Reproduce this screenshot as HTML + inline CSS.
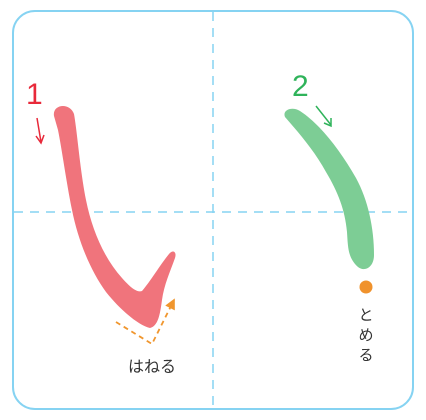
<!DOCTYPE html>
<html><head><meta charset="utf-8">
<style>
html,body{margin:0;padding:0;background:#fff;}
svg{display:block;}
text{font-family:"Liberation Sans","Noto Sans CJK JP",sans-serif;}
</style></head>
<body>
<svg width="426" height="420" viewBox="0 0 426 420" xmlns="http://www.w3.org/2000/svg">
  <defs>
    <marker id="ah" markerWidth="6" markerHeight="6" refX="5" refY="3" orient="auto">
      <path d="M0,0 L6,3 L0,6 z" fill="#f0962e"/>
    </marker>
  </defs>
  <rect x="13" y="11" width="400" height="398" rx="22" ry="22" fill="#fff" stroke="#86d3f2" stroke-width="2"/>
  <line x1="213" y1="12" x2="213" y2="408" stroke="#86d3f2" stroke-width="1.5" stroke-dasharray="9,7"/>
  <line x1="14" y1="212" x2="412" y2="212" stroke="#86d3f2" stroke-width="1.5" stroke-dasharray="9,7"/>

  <path fill="#f0747c"
    d="M54 116 C52 104 70 102 74 114 C77 130 80 170 86 200 C92 230 104 258 122 278 C130 287 137 293 142 291 C150 282 160 265 169 254 C173 249 177 252 175 258 C170 272 164 285 162 300 C160 315 158 326 150 328 C140 326 122 312 106 292 C90 270 78 240 72 210 C66 180 62 150 58 130 Z"/>
  <path fill="#7dcd95"
    d="M285 117 C282 110 292 106 300 111 C320 124 340 150 356 178 C368 200 374 228 374 255 C374 268 364 272 358 267 C348 258 348 248 347 232 C345 210 338 192 326 172 C314 150 298 132 285 117 Z"/>

  <text x="26" y="104" font-size="30" fill="#e8293a">1</text>
  <line x1="37" y1="118" x2="41" y2="142" stroke="#e8293a" stroke-width="1.5"/>
  <path d="M36 136 L41 143 L44 135" fill="none" stroke="#e8293a" stroke-width="1.5"/>

  <text x="292" y="96" font-size="30" fill="#2fb35a">2</text>
  <line x1="316" y1="106" x2="331" y2="125" stroke="#2fb35a" stroke-width="1.5"/>
  <path d="M324 123 L331 126 L331 118" fill="none" stroke="#2fb35a" stroke-width="1.5"/>

  <path d="M116 322 L152 344 L174 300" fill="none" stroke="#f0962e" stroke-width="1.8" stroke-dasharray="5,4" marker-end="url(#ah)"/>
  <text x="152" y="372" font-size="16" fill="#333" text-anchor="middle">はねる</text>

  <circle cx="366" cy="287" r="6.5" fill="#f0922c"/>
  <text x="366" y="320" font-size="15" fill="#333" text-anchor="middle">と</text>
  <text x="366" y="340" font-size="15" fill="#333" text-anchor="middle">め</text>
  <text x="366" y="360" font-size="15" fill="#333" text-anchor="middle">る</text>
</svg>
</body></html>
